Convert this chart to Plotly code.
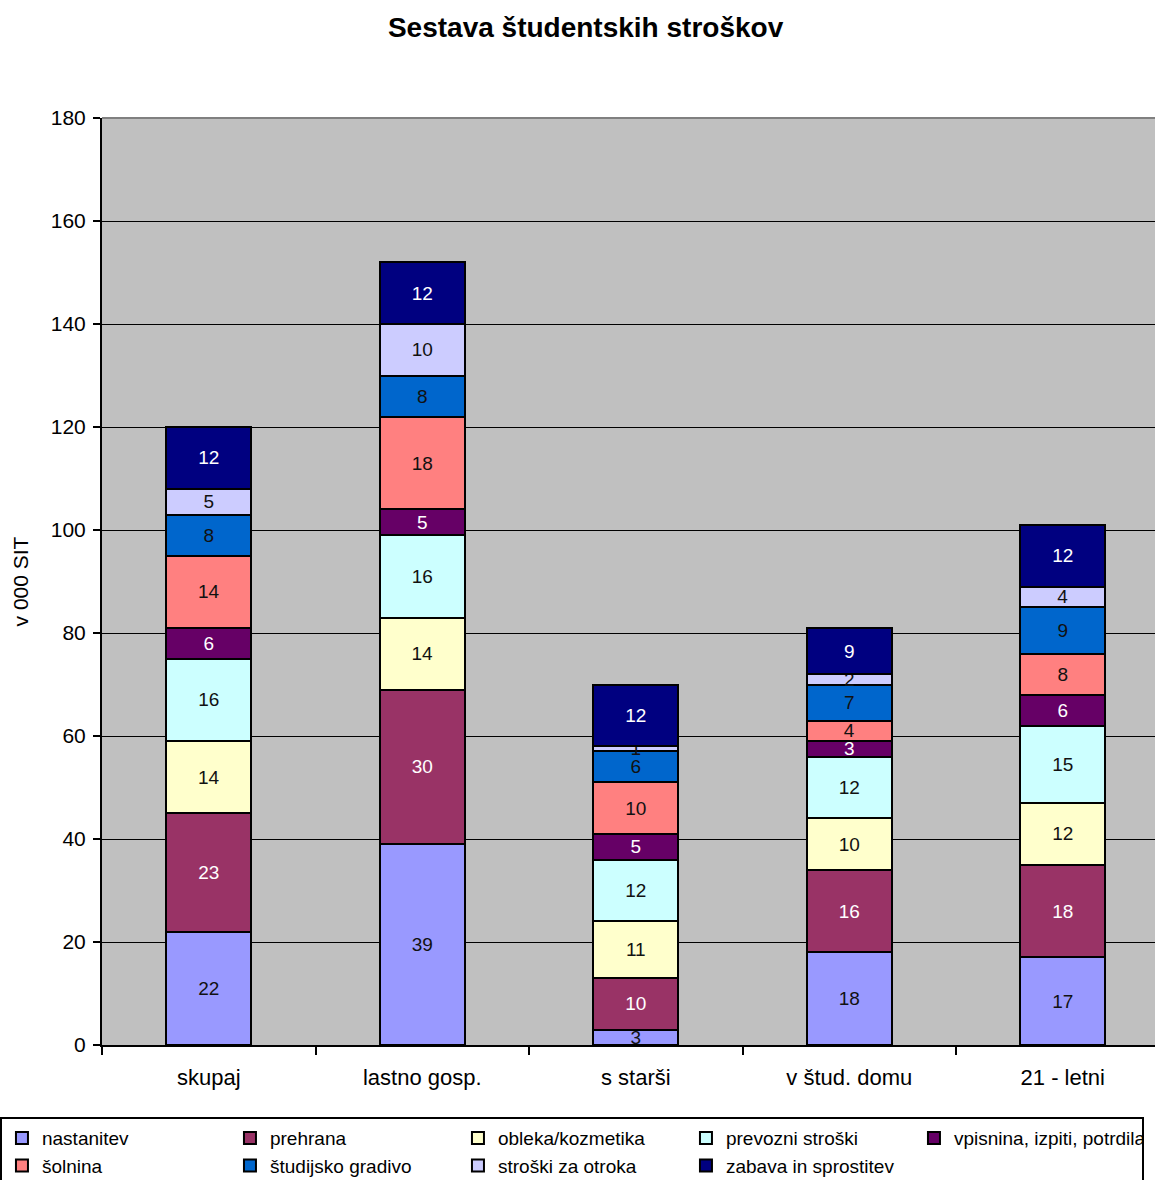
import plotly.graph_objects as go

# Student cost structure, in thousands of SIT
categories = ["skupaj", "lastno gosp.", "s starši", "v štud. domu", "21 - letni"]

nastanitev = [22, 39, 3, 18, 17]
prehrana = [23, 30, 10, 16, 18]
obleka_kozmetika = [14, 14, 11, 10, 12]
prevozni_stroski = [16, 16, 12, 12, 15]
vpisnina = [6, 5, 5, 3, 6]
solnina = [14, 18, 10, 4, 8]
studijsko_gradivo = [8, 8, 6, 7, 9]
stroski_za_otroka = [5, 10, 1, 2, 4]
zabava = [12, 12, 12, 9, 12]

series = [
    ("nastanitev", nastanitev, "#9999FF", "#111111"),
    ("prehrana", prehrana, "#993366", "#FFFFFF"),
    ("obleka/kozmetika", obleka_kozmetika, "#FFFFCC", "#111111"),
    ("prevozni stroški", prevozni_stroski, "#CCFFFF", "#111111"),
    ("vpisnina, izpiti, potrdila", vpisnina, "#660066", "#FFFFFF"),
    ("šolnina", solnina, "#FF8080", "#111111"),
    ("študijsko gradivo", studijsko_gradivo, "#0066CC", "#111111"),
    ("stroški za otroka", stroski_za_otroka, "#CCCCFF", "#111111"),
    ("zabava in sprostitev", zabava, "#000080", "#FFFFFF"),
]

FONT = "Liberation Sans, Arial, sans-serif"

fig = go.Figure()
for name, vals, color, tcol in series:
    fig.add_trace(go.Bar(
        name=name,
        x=categories,
        y=vals,
        width=0.4,
        marker=dict(color=color, line=dict(color="#000000", width=2)),
        text=[str(v) for v in vals],
        textposition="inside",
        insidetextanchor="middle",
        textangle=0,
        textfont=dict(color=tcol, size=19, family=FONT),
    ))

fig.update_layout(
    barmode="stack",
    width=1155,
    height=1180,
    margin=dict(l=102, r=0, t=118, b=135, autoexpand=False),
    paper_bgcolor="#FFFFFF",
    plot_bgcolor="#C0C0C0",
    font=dict(family=FONT, color="#000000"),
    uniformtext=dict(minsize=19, mode="show"),
    title=dict(
        text="<b>Sestava študentskih stroškov</b>",
        font=dict(size=28, family=FONT, color="#000000"),
        x=0.507, xanchor="center", y=0.977, yanchor="middle",
    ),
    xaxis=dict(
        range=[-0.5, 4.432],
        tickson="boundaries",
        ticks="outside",
        ticklen=8,
        tickcolor="#000000",
        tickwidth=2,
        ticklabelstandoff=12,
        showline=True,
        linecolor="#000000",
        linewidth=2,
        showgrid=False,
        tickfont=dict(size=22, family=FONT, color="#000000"),
    ),
    yaxis=dict(
        range=[0, 180],
        dtick=20,
        ticks="outside",
        ticklen=7,
        tickcolor="#000000",
        tickwidth=2,
        ticklabelstandoff=3,
        showline=True,
        linecolor="#000000",
        linewidth=2,
        showgrid=True,
        gridcolor="#000000",
        gridwidth=1,
        zeroline=False,
        tickfont=dict(size=21, family=FONT, color="#000000"),
        title=dict(text="v 000 SIT", font=dict(size=21, family=FONT, color="#000000"), standoff=16),
    ),
    legend=dict(
        orientation="h",
        x=-0.0969, xanchor="left",
        y=-0.0777, yanchor="top",
        entrywidth=183,
        entrywidthmode="pixels",
        bordercolor="#000000",
        borderwidth=2,
        bgcolor="#FFFFFF",
        font=dict(size=19, family=FONT, color="#000000"),
        traceorder="normal",
        itemwidth=30,
    ),
    showlegend=True,
)

# grey frame line along the top of the plot area
fig.add_shape(type="line", xref="paper", yref="paper", x0=0, x1=1, y0=1, y1=1,
              line=dict(color="#808080", width=2), layer="above")

fig.write_html("out.html")
